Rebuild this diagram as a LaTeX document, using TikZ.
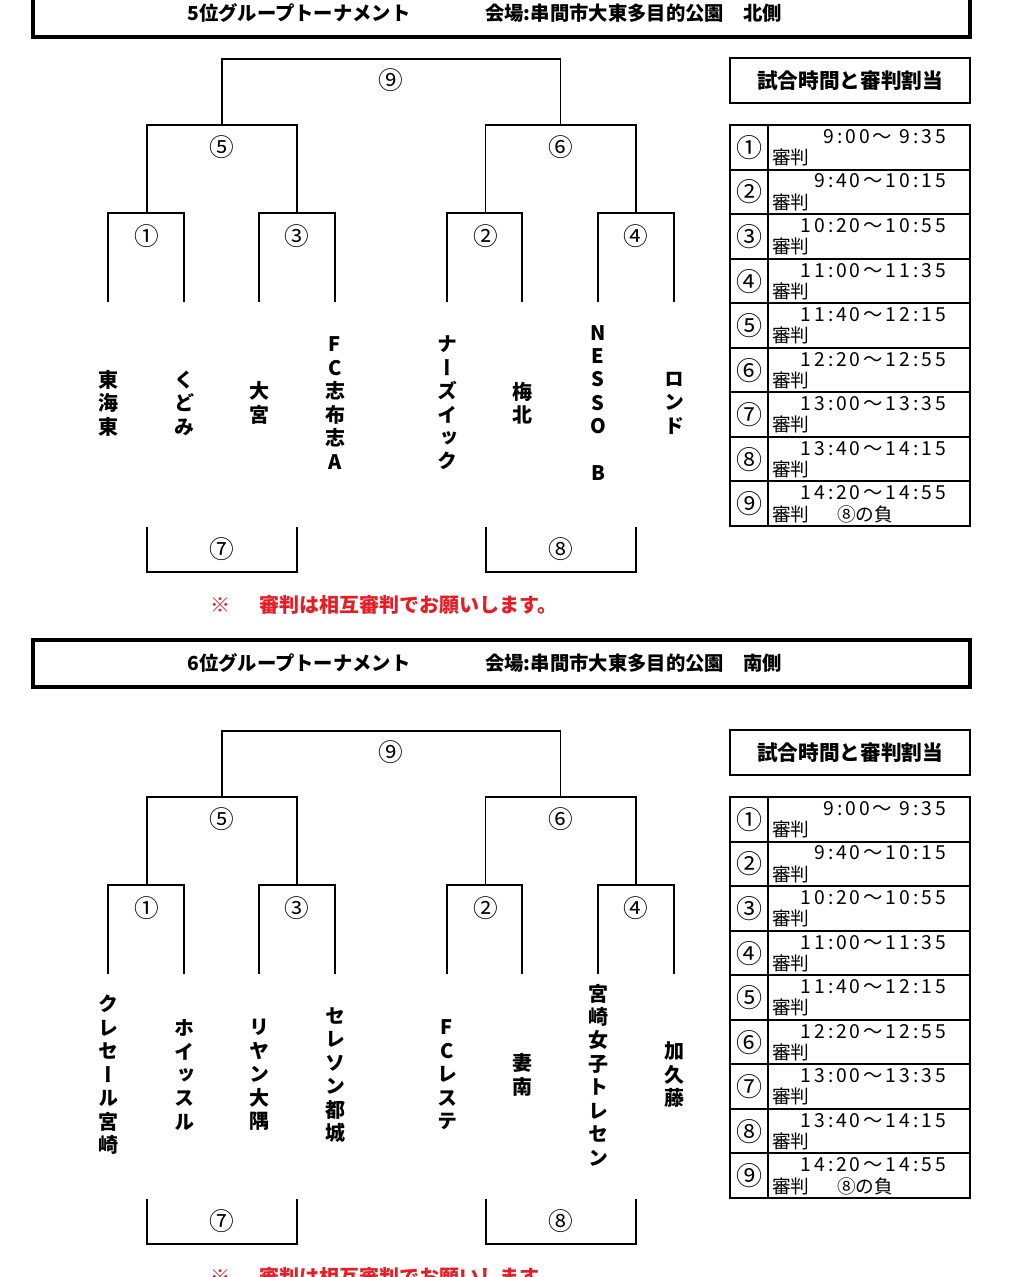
\documentclass[tikz,border=0pt]{standalone}
\usepackage{fontspec}
\newfontfamily\jp{Noto Sans CJK JP}
\newfontfamily\jpvert{Noto Sans CJK JP}[RawFeature=+vert]
\newfontfamily\jptime{Noto Sans CJK JP}[LetterSpace=15]
\definecolor{notered}{RGB}{232,28,36}

\tikzset{
  bar/.style={line width=1.3pt},
  frame/.style={line width=2.6pt},
  cell/.style={line width=1.5pt},
  gamenum/.style={font=\jp\fontsize{18.5}{18.5}\selectfont, inner sep=0pt},
  team/.style={font=\jpvert\bfseries\fontsize{15}{17.6}\selectfont, align=center, inner sep=0pt},
  headtext/.style={font=\jp\bfseries\fontsize{14.5}{15}\selectfont, inner sep=0pt, anchor=west},
  tabletitle/.style={font=\jp\bfseries\fontsize{15.5}{16}\selectfont, inner sep=0pt},
  slotnum/.style={font=\jp\fontsize{19.5}{19.5}\selectfont, inner sep=0pt},
  slottime/.style={font=\jptime\fontsize{14.5}{15}\selectfont, inner sep=0pt, anchor=east},
  slotref/.style={font=\jp\fontsize{14}{14}\selectfont, inner sep=0pt, anchor=west},
  notetext/.style={font=\jp\bfseries\fontsize{15}{15}\selectfont, text=notered, inner sep=0pt, anchor=west},
}

% bracket, time table and note of one tournament; #1 = name prefix
\newcommand\tourhalf[1]{%
  % ends of the first round
  \foreach \x [count=\i] in {108,184,259,335,447,522,598,674}
    \coordinate (#1t\i) at (\x,302);
  % match points
  \coordinate (#1m1) at (147,213);
  \coordinate (#1m3) at (297,213);
  \coordinate (#1m2) at (485.5,213);
  \coordinate (#1m4) at (636,213);
  \coordinate (#1m5) at (222,125);
  \coordinate (#1m6) at (560.5,125);
  \coordinate (#1m9) at (391,59);
  % bracket
  \draw[bar] (#1t1) |- (#1m1) -| (#1t2);
  \draw[bar] (#1t3) |- (#1m3) -| (#1t4);
  \draw[bar] (#1t5) |- (#1m2) -| (#1t6);
  \draw[bar] (#1t7) |- (#1m4) -| (#1t8);
  \draw[bar] (#1m1) |- (#1m5) -| (#1m3);
  \draw[bar] (#1m2) |- (#1m6) -| (#1m4);
  \draw[bar] (#1m5) |- (#1m9) -| (#1m6);
  \node[gamenum] (#1g1) at ([yshift=17pt]#1m1) {①};
  \node[gamenum] (#1g2) at ([yshift=17pt]#1m2) {②};
  \node[gamenum] (#1g3) at ([yshift=17pt]#1m3) {③};
  \node[gamenum] (#1g4) at ([yshift=17pt]#1m4) {④};
  \node[gamenum] (#1g5) at ([yshift=16.5pt]#1m5) {⑤};
  \node[gamenum] (#1g6) at ([yshift=16.5pt]#1m6) {⑥};
  \node[gamenum] (#1g9) at ([yshift=16pt]#1m9) {⑨};
  % losers' games
  \coordinate (#1b1) at (147,527);
  \coordinate (#1b2) at (297,527);
  \coordinate (#1b3) at (486,527);
  \coordinate (#1b4) at (636,527);
  \coordinate (#1m7) at (222,572);
  \coordinate (#1m8) at (561,572);
  \draw[bar] (#1b1) |- (#1m7) -| (#1b2);
  \draw[bar] (#1b3) |- (#1m8) -| (#1b4);
  \node[gamenum] (#1g7) at ([yshift=-17pt]#1m7) {⑦};
  \node[gamenum] (#1g8) at ([yshift=-17pt]#1m8) {⑧};
  % time table
  \draw[cell] (730,58) rectangle (970,103);
  \node[tabletitle] (#1tabtitle) at (850,80.5) {試合時間と審判割当};
  \draw[cell] (730,125) rectangle (970,526);
  \draw[cell] (768,125) -- (768,526);
  \foreach \i in {1,...,8}
    \draw[cell] (730,{125+\i*44.56}) -- (970,{125+\i*44.56});
  \foreach \c/\t [count=\i] in {①/{9:00～ 9:35},②/{9:40～10:15},③/{10:20～10:55},
      ④/{11:00～11:35},⑤/{11:40～12:15},⑥/{12:20～12:55},⑦/{13:00～13:35},
      ⑧/{13:40～14:15},⑨/{14:20～14:55}}{
    \pgfmathsetmacro\rowtop{125+(\i-1)*44.56}
    \node[slotnum] (#1n\i) at (749,{\rowtop+22.5}) {\c};
    \node[slottime] (#1time\i) at (946,{\rowtop+11.5}) {\t};
    \node[slotref] (#1ref\i) at (772,{\rowtop+32.5}) {審判};
  }
  \node[slotref] (#1loser) at (837,{125+8*44.56+32.5}) {⑧の負};
  % note
  \node[notetext] (#1note) at (210,605) {※\hspace{1.45em}審判は相互審判でお願いします。};
}

\begin{document}
\begin{tikzpicture}[x=0.75pt,y=0.75pt,yscale=-1,xscale=1]
\useasboundingbox (0,0) rectangle (1022,1277);

% headers
\draw[frame] (33,-10) rectangle (970,37);
\node[headtext] (titleA) at (187,13) {5位グループトーナメント};
\node[headtext] (venueA) at (485,13) {会場:串間市大東多目的公園　北側};
\draw[frame] (33,640) rectangle (970,687);
\node[headtext] (titleB) at (187,663) {6位グループトーナメント};
\node[headtext] (venueB) at (485,663) {会場:串間市大東多目的公園　南側};

% 5th place group
\begin{scope}
  \tourhalf{a}
  \foreach \x/\n [count=\i] in {108/{東\\海\\東},184/{く\\ど\\み},259/{大\\宮},
      335/{F\\C\\志\\布\\志\\A},447/{ナ\\ー\\ズ\\イ\\ッ\\ク},522/{梅\\北},
      598/{N\\E\\S\\S\\O\\\mbox{}\\B},674/{ロ\\ン\\ド}}
    \node[team] (aname\i) at (\x,403) {\n};
\end{scope}

% 6th place group
\begin{scope}[shift={(0,672)}]
  \tourhalf{b}
  \foreach \x/\n [count=\i] in {108/{ク\\レ\\セ\\ー\\ル\\宮\\崎},184/{ホ\\イ\\ッ\\ス\\ル},
      259/{リ\\ヤ\\ン\\大\\隅},335/{セ\\レ\\ソ\\ン\\都\\城},447/{F\\C\\レ\\ス\\テ},
      522/{妻\\南},598/{宮\\崎\\女\\子\\ト\\レ\\セ\\ン},674/{加\\久\\藤}}
    \node[team] (bname\i) at (\x,403) {\n};
\end{scope}

\end{tikzpicture}
\end{document}
